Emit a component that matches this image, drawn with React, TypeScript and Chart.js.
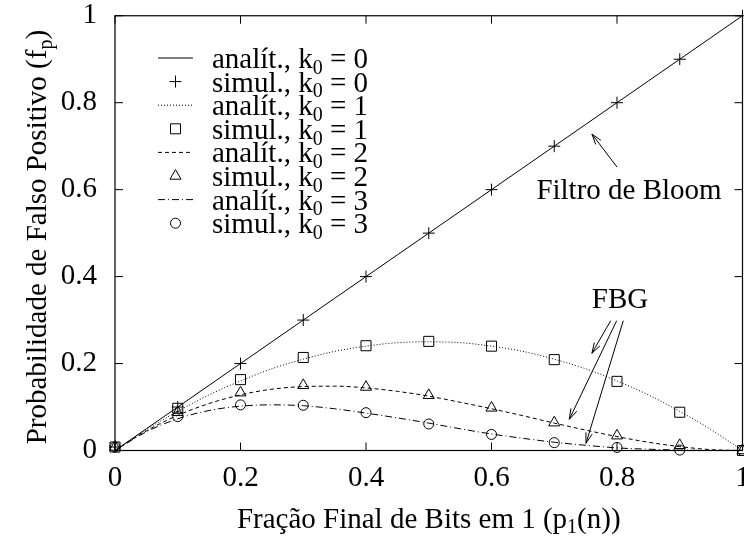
import React, { useEffect, useRef } from 'react';
import { Chart, registerables } from 'chart.js';

Chart.register(...registerables);

// ---- data ----
const SIM_X = [0, 0.1, 0.2, 0.3, 0.4, 0.5, 0.6, 0.7, 0.8, 0.9, 1.0];
const SIM_K0 = [0.008, 0.1, 0.2, 0.3, 0.4, 0.5, 0.6, 0.7, 0.8, 0.9, 1.0];
const SIM_K1 = [0.008, 0.097, 0.163, 0.214, 0.241, 0.251, 0.24, 0.209, 0.159, 0.088, 0.0];
const SIM_K2 = [0.008, 0.088, 0.133, 0.15, 0.146, 0.127, 0.098, 0.064, 0.034, 0.012, 0.0];
const SIM_K3 = [0.008, 0.078, 0.105, 0.104, 0.087, 0.061, 0.037, 0.018, 0.007, 0.001, 0.0];

const ANA_X = [0, 0.05, 0.1, 0.15, 0.2, 0.25, 0.3, 0.35, 0.4, 0.45, 0.5, 0.55, 0.6, 0.65, 0.7, 0.75, 0.8, 0.85, 0.9, 0.95, 1.0];
const ANA_K0 = [0, 0.05, 0.1, 0.15, 0.2, 0.25, 0.3, 0.35, 0.4, 0.45, 0.5, 0.55, 0.6, 0.65, 0.7, 0.75, 0.8, 0.85, 0.9, 0.95, 1.0];
const ANA_K1 = [0, 0.048, 0.09, 0.128, 0.16, 0.188, 0.21, 0.228, 0.24, 0.248, 0.25, 0.248, 0.24, 0.228, 0.21, 0.188, 0.16, 0.128, 0.09, 0.048, 0];
const ANA_K2 = [0, 0.045, 0.081, 0.108, 0.128, 0.141, 0.147, 0.148, 0.144, 0.136, 0.125, 0.111, 0.096, 0.08, 0.063, 0.047, 0.032, 0.019, 0.009, 0.002, 0];
const ANA_K3 = [0, 0.043, 0.073, 0.092, 0.102, 0.105, 0.103, 0.096, 0.086, 0.075, 0.063, 0.05, 0.038, 0.028, 0.019, 0.012, 0.006, 0.003, 0.001, 0.0001, 0];

const X_TICKS = [0, 0.2, 0.4, 0.6, 0.8, 1];
const Y_TICKS = [0, 0.2, 0.4, 0.6, 0.8, 1];

const LEGEND_KINDS = ['analít.', 'simul.', 'analít.', 'simul.', 'analít.', 'simul.', 'analít.', 'simul.'];
const LEGEND_K = ['0', '0', '1', '1', '2', '2', '3', '3'];

const X_TITLE = [{ t: 'Fração Final de Bits em 1 (p' }, { t: '1', sub: true }, { t: '(n))' }];
const Y_TITLE = [{ t: 'Probabilidade de Falso Positivo (f' }, { t: 'p', sub: true }, { t: ')' }];

const BLOOM_LABEL = 'Filtro de Bloom';
const FBG_LABEL = 'FBG';

// annotation anchors in data coordinates
const BLOOM_TEXT_AT = { x: 0.9668, y: 0.5785 };
const BLOOM_ARROW = { from: { x: 0.8, y: 0.652 }, to: { x: 0.76, y: 0.728 } };
const FBG_TEXT_AT = { x: 0.8048, y: 0.3277 };
const FBG_ARROWS = [
  { from: { x: 0.79, y: 0.2986 }, to: { x: 0.76, y: 0.2236 } },
  { from: { x: 0.7995, y: 0.2986 }, to: { x: 0.724, y: 0.0718 } },
  { from: { x: 0.81, y: 0.2986 }, to: { x: 0.7506, y: 0.0166 } },
];

const FONT = "'Liberation Serif', 'Times New Roman', serif";
const BIG = 29;
const LEG = 29;

type Seg = { t: string; sub?: boolean };

function segWidth(ctx: CanvasRenderingContext2D, segs: Seg[], size: number) {
  let w = 0;
  for (const s of segs) {
    ctx.font = `${s.sub ? Math.round(size * 0.7) : size}px ${FONT}`;
    w += ctx.measureText(s.t).width;
  }
  return w;
}

function drawSegs(ctx: CanvasRenderingContext2D, segs: Seg[], x: number, baseline: number, size: number) {
  ctx.textAlign = 'left';
  ctx.textBaseline = 'alphabetic';
  let cx = x;
  for (const s of segs) {
    const fs = s.sub ? Math.round(size * 0.7) : size;
    ctx.font = `${fs}px ${FONT}`;
    ctx.fillText(s.t, cx, baseline + (s.sub ? size * 0.2 : 0));
    cx += ctx.measureText(s.t).width;
  }
}

function drawMarker(ctx: CanvasRenderingContext2D, style: string, x: number, y: number) {
  ctx.beginPath();
  if (style === 'cross') {
    ctx.moveTo(x - 6, y); ctx.lineTo(x + 6, y);
    ctx.moveTo(x, y - 6); ctx.lineTo(x, y + 6);
  } else if (style === 'rect') {
    ctx.rect(x - 5, y - 5, 10, 10);
  } else if (style === 'triangle') {
    const r = 6.4;
    ctx.moveTo(x, y - r);
    ctx.lineTo(x + r * 0.866, y + r / 2);
    ctx.lineTo(x - r * 0.866, y + r / 2);
    ctx.closePath();
  } else {
    ctx.arc(x, y, 5, 0, Math.PI * 2);
  }
  ctx.stroke();
}

function arrow(ctx: CanvasRenderingContext2D, x1: number, y1: number, x2: number, y2: number) {
  const a = Math.atan2(y2 - y1, x2 - x1);
  const L = 11;
  const s = 0.3;
  ctx.beginPath();
  ctx.moveTo(x1, y1);
  ctx.lineTo(x2, y2);
  ctx.moveTo(x2 - L * Math.cos(a - s), y2 - L * Math.sin(a - s));
  ctx.lineTo(x2, y2);
  ctx.lineTo(x2 - L * Math.cos(a + s), y2 - L * Math.sin(a + s));
  ctx.stroke();
}

const DASHES: number[][] = [[], [1, 2], [4, 3], [7, 3, 1, 3]];
const MARKERS = ['cross', 'rect', 'triangle', 'circle'];

const overlay = {
  id: 'overlay',
  afterDatasetsDraw(chart: any) {
    const ctx: CanvasRenderingContext2D = chart.ctx;
    const { left, right, top, bottom } = chart.chartArea;
    const xs = chart.scales.x;
    const ys = chart.scales.y;
    ctx.save();
    ctx.strokeStyle = '#000';
    ctx.lineWidth = 1.2;
    ctx.setLineDash([]);
    ctx.strokeRect(left, top, right - left, bottom - top);
    ctx.lineWidth = 1;
    const tl = 8;
    ctx.beginPath();
    for (const v of X_TICKS) {
      const px = xs.getPixelForValue(v);
      ctx.moveTo(px, bottom); ctx.lineTo(px, bottom - tl);
      ctx.moveTo(px, top); ctx.lineTo(px, top + tl);
    }
    for (const v of Y_TICKS) {
      const py = ys.getPixelForValue(v);
      ctx.moveTo(left, py); ctx.lineTo(left + tl, py);
      ctx.moveTo(right, py); ctx.lineTo(right - tl, py);
    }
    ctx.stroke();
    ctx.restore();
  },
  afterDraw(chart: any) {
    const ctx: CanvasRenderingContext2D = chart.ctx;
    const { left, right, top, bottom } = chart.chartArea;
    const xs = chart.scales.x;
    const ys = chart.scales.y;
    ctx.save();
    ctx.fillStyle = '#000';
    ctx.strokeStyle = '#000';

    // x title
    const xw = segWidth(ctx, X_TITLE, BIG);
    drawSegs(ctx, X_TITLE, (left + right) / 2 - xw / 2, bottom + 77, BIG);

    // y title
    const yw = segWidth(ctx, Y_TITLE, BIG);
    ctx.save();
    ctx.translate(46, (top + bottom) / 2 + 4);
    ctx.rotate(-Math.PI / 2);
    drawSegs(ctx, Y_TITLE, -yw / 2, 0, BIG);
    ctx.restore();

    // legend
    const lx0 = left + 43, lx1 = left + 78, tx = left + 97;
    for (let i = 0; i < LEGEND_KINDS.length; i++) {
      const base = top + 52.25 + i * 23.6;
      const cy = base - 10;
      const k = Math.floor(i / 2);
      ctx.lineWidth = 1;
      if (i % 2 === 0) {
        ctx.setLineDash(DASHES[k]);
        ctx.beginPath();
        ctx.moveTo(lx0, cy); ctx.lineTo(lx1, cy);
        ctx.stroke();
        ctx.setLineDash([]);
      } else {
        drawMarker(ctx, MARKERS[k], (lx0 + lx1) / 2, cy);
      }
      drawSegs(ctx, [{ t: LEGEND_KINDS[i] + ', k' }, { t: '0', sub: true }, { t: ' = ' + LEGEND_K[i] }], tx, base, LEG);
    }

    // annotations
    ctx.font = `${BIG}px ${FONT}`;
    ctx.textBaseline = 'alphabetic';
    ctx.textAlign = 'right';
    ctx.fillText(BLOOM_LABEL, xs.getPixelForValue(BLOOM_TEXT_AT.x), ys.getPixelForValue(BLOOM_TEXT_AT.y));
    ctx.textAlign = 'center';
    ctx.fillText(FBG_LABEL, xs.getPixelForValue(FBG_TEXT_AT.x), ys.getPixelForValue(FBG_TEXT_AT.y));
    ctx.lineWidth = 1;
    const arrows = [BLOOM_ARROW, ...FBG_ARROWS];
    for (const a of arrows) {
      arrow(ctx, xs.getPixelForValue(a.from.x), ys.getPixelForValue(a.from.y), xs.getPixelForValue(a.to.x), ys.getPixelForValue(a.to.y));
    }
    ctx.restore();
  },
};

function pts(xsArr: number[], ysArr: number[]) {
  return xsArr.map((x, i) => ({ x, y: ysArr[i] }));
}

export default function App() {
  const ref = useRef<HTMLCanvasElement | null>(null);
  useEffect(() => {
    if (!ref.current) return;
    const anaSets = [ANA_K0, ANA_K1, ANA_K2, ANA_K3];
    const simSets = [SIM_K0, SIM_K1, SIM_K2, SIM_K3];
    const datasets: any[] = [];
    for (let k = 0; k < 4; k++) {
      datasets.push({
        label: `analit k0=${k}`,
        data: pts(ANA_X, anaSets[k]),
        showLine: true,
        borderColor: '#000',
        borderWidth: 1,
        borderDash: DASHES[k],
        pointRadius: 0,
        cubicInterpolationMode: 'monotone',
        clip: false,
      });
      datasets.push({
        label: `simul k0=${k}`,
        data: pts(SIM_X, simSets[k]),
        showLine: false,
        borderColor: '#000',
        backgroundColor: 'rgba(0,0,0,0)',
        pointStyle: MARKERS[k],
        pointRadius: [6, 7.1, 6.4, 5][k],
        pointBorderWidth: 1,
        pointBorderColor: '#000',
        pointBackgroundColor: 'rgba(0,0,0,0)',
        clip: false,
      });
    }
    const chart = new Chart(ref.current, {
      type: 'scatter',
      data: { datasets },
      options: {
        animation: false,
        responsive: false,
        devicePixelRatio: 1,
        layout: { padding: { left: 0, top: 15.75, right: 17.5, bottom: 0 } },
        plugins: { legend: { display: false }, tooltip: { enabled: false } },
        scales: {
          x: {
            type: 'linear',
            min: 0,
            max: 1,
            afterFit: (s: any) => { s.height = 92.5; s.paddingLeft = 0; s.paddingRight = 0; },
            afterBuildTicks: (s: any) => { s.ticks = X_TICKS.map((v) => ({ value: v })); },
            grid: { display: false, drawTicks: false },
            border: { display: false },
            ticks: {
              padding: 13,
              color: '#000',
              font: { family: FONT, size: BIG, lineHeight: 1 },
              callback: (v: any) => String(Math.round(Number(v) * 10) / 10),
            },
          },
          y: {
            type: 'linear',
            min: 0,
            max: 1,
            afterFit: (s: any) => { s.width = 115; s.paddingTop = 0; s.paddingBottom = 0; },
            afterBuildTicks: (s: any) => { s.ticks = Y_TICKS.map((v) => ({ value: v })); },
            grid: { display: false, drawTicks: false },
            border: { display: false },
            ticks: {
              padding: 18,
              color: '#000',
              font: { family: FONT, size: BIG, lineHeight: 1 },
              callback: (v: any) => String(Math.round(Number(v) * 10) / 10),
            },
          },
        },
      },
      plugins: [overlay],
    });
    return () => chart.destroy();
  }, []);
  return (
    <div style={{ position: 'fixed', left: 0, top: 0, width: 760, height: 543, background: '#fff' }}>
      <canvas ref={ref} width={760} height={543} style={{ display: 'block' }} />
    </div>
  );
}
